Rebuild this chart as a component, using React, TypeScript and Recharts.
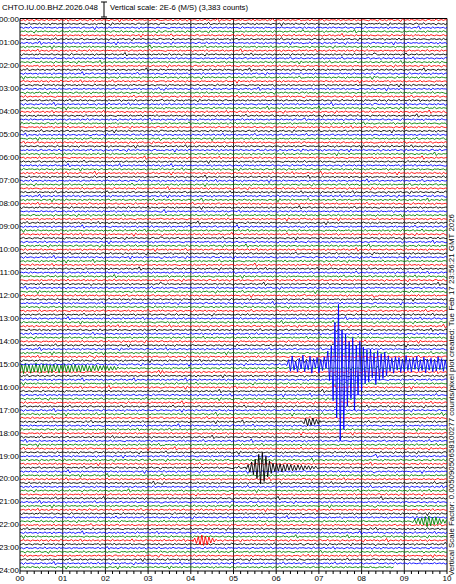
import React from "react";
import { LineChart, Line, XAxis, YAxis, ReferenceLine } from "recharts";

// helicorder CHTO.IU.00.BHZ, one line = 10 minutes, 6 lines per hour
const TRACE_COUNT = 144;
const TRACE_COLORS = ["#ff0000", "#000000", "#0000ff", "#008000"];
const HOUR_LABELS = [
  "00:00", "01:00", "02:00", "03:00", "04:00", "05:00", "06:00", "07:00", "08:00",
  "09:00", "10:00", "11:00", "12:00", "13:00", "14:00", "15:00", "16:00", "17:00",
  "18:00", "19:00", "20:00", "21:00", "22:00", "23:00", "24:00",
];
const MINUTE_LABELS = ["00", "01", "02", "03", "04", "05", "06", "07", "08", "09", "10"];

// background wiggle (small units of a line spacing)
const NOISE = [
  [0, 1, -1, 2, -2, 1, 0, -1, 3, -2, 0, 1, -1, 0, 2, -3, 1, 0, -1, 1, 0, -2, 2, -1, 0, 1, -4, 3, -1, 0, 1, -1, 2, 0, -2, 1, -1, 0, 2, -1],
  [1, -1, 0, 2, -1, -2, 1, 0, 1, -3, 2, 0, -1, 1, -1, 0, 3, -2, 0, 1, -1, 2, -1, 0, -2, 1, 1, -1, 0, 4, -3, 1, 0, -1, 1, -2, 0, 1, -1, 0],
  [-1, 0, 2, -1, 1, 0, -2, 1, -1, 2, 0, -1, 1, -5, 4, -1, 0, 1, -1, 0, 2, -2, 1, 0, -1, 1, 0, -1, 2, -1, 0, 1, -2, 1, 0, -1, 3, -2, 1, 0],
  [0, -2, 1, 1, -1, 0, 2, -1, 0, -1, 1, 2, -3, 1, 0, -1, 0, 1, -2, 2, -1, 0, 1, -1, 3, -2, 0, -1, 1, 0, -1, 2, -1, 1, -2, 0, 1, -1, 0, 1],
  [2, -1, 0, -1, 1, 0, -1, 2, -2, 1, 0, 1, -1, 0, -2, 3, -1, 0, 1, -1, 0, -1, 2, -3, 2, 0, -1, 1, 0, -1, 1, 0, -2, 2, -1, 1, 0, -1, 0, 1],
  [-1, 1, 0, -1, 2, -1, 0, 1, -2, 0, 1, -1, 3, -2, 1, 0, -1, 1, -1, 0, 0, 2, -1, -1, 1, 0, -2, 5, -3, 1, 0, -1, 1, -1, 2, -2, 0, 1, -1, 0],
  [0, 1, -2, 1, 0, -1, 1, -1, 2, 0, -2, 1, 0, 1, -1, -1, 2, -1, 0, 1, -3, 2, 0, -1, 1, -1, 0, 2, -2, 1, -1, 0, 1, 0, -1, 2, -1, 0, -1, 1],
  [1, 0, -1, 1, -2, 2, -1, 0, 1, -1, 0, -1, 2, -1, 1, -4, 2, 1, -1, 0, 1, -2, 1, 0, -1, 2, -1, 0, 1, -1, -2, 2, 0, -1, 1, 0, -1, 1, -2, 1],
];
const NOISE_UNIT = 0.1;

// events, in line spacings, sampled every 2.5 s
const QUAKE = [
  0.3, -1.2, 1.8, -2.2, 1.5, -0.8,
  2.0, -1.6, 1.2, -2.4, 1.9, -1.0, 1.4, -2.1, 2.3, -1.5, 0.9, -1.8, 2.2, -1.3, 1.6, -2.0, 1.1,
  -3.5, 4.2, -4.8,
  9.5, -11, 14, -15.7, 20, -9, 17,
  -8, 11, -6, 9, -7, 12, -5, 8, -6, 7,
  -4.5, 5, -3.8, 4.6, -4, 3.5, -3, 5.2, -3.6, 4, -2.8, 3.7, -3.2, 3,
  -2.2, 1.8, -1.6, 2.3, -2, 1.5, -1.8, 2.1, -1.4, 1.9, -2.3, 1.6, -1.5, 2, -1.7, 1.3, -2.1,
  1.8, -1.2, 1.6, -1.9, 2.2, -1.4, 1.5, -1.6, 1.9, -1.3, 1.7, -2, 1.4, -1.5, 1.8, -1.2, 1.5,
];
const QUAKE_CODA = [
  1.2, -1.0, 1.4, -1.3, 0.9, -1.1, 1.3, -0.8, 1.0, -1.4,
  1.1, -0.9, 1.2, -1.2, 0.8, -1.0, 1.3, -0.9, 1.1, -1.1,
  0.7, -1.0, 1.2, -0.8, 0.9, -1.1, 1.0, -0.7, 1.1, -0.9,
  0.8, -1.0, 0.9, -0.7, 1.0, -0.8, 0.7, -0.9, 0.8, -0.6,
  0.9, -0.7, 0.6, -0.8, 0.7, -0.6, 0.5, -0.7, 0.6, -0.5,
  0.6, -0.4, 0.5, -0.5, 0.4, -0.3,
];
const BLACK_EVENT = [
  0.4, -0.8, 1.2, -1.5, 1.8, -2.2, 2.8, -3.5, 4.2, -4.0,
  3.6, -3.0, 2.4, -1.8, 1.5, -1.2, 1.0, -1.1, 0.9, -1.0,
  1.1, -0.8, 0.9, -0.9, 0.7, -0.8, 0.8, -0.6, 0.7, -0.7,
  0.5, -0.6, 0.6, -0.5, 0.4, -0.5, 0.5, -0.4, 0.3, -0.4, 0.2,
];
const GREEN_EVENT = [0.3, -0.5, 0.6, -0.8, 0.7, -0.9, 1.0, -1.2, 1.4, -1.3, 1.2, -1.0, 0.9, -1.1, 0.8, -0.7, 0.6, -0.5, 0.5, -0.4];
const RED_EVENT = [0.3, -0.6, 0.8, -1.0, 1.2, -1.4, 1.3, -1.1, 1.2, -0.9, 0.7, -0.6, 0.4, -0.3];
const SMALL_EVENT = [0.5, -0.9, 1.1, -0.8, 0.9, -1.0, 0.7, -0.6, 0.5, -0.3];

const EVENTS = [
  { trace: 90, start: 6.25, values: QUAKE },
  { trace: 91, start: 0, values: QUAKE_CODA },
  { trace: 105, start: 6.65, values: SMALL_EVENT },
  { trace: 117, start: 5.3, values: BLACK_EVENT },
  { trace: 131, start: 9.2, values: GREEN_EVENT },
  { trace: 136, start: 4.05, values: RED_EVENT },
];
const LAST_SAMPLE = 8.75; // plot created before the last line was full

const STEP = 2.5 / 60;

function pick(i: number, j: number) {
  const p = NOISE[(i * 3 + j * 5 + ((i * j) % 7)) % 8];
  const s = (i * 7 + j * 11) % 40;
  return [...p.slice(s), ...p.slice(0, s)];
}

function buildTrace(i: number) {
  const n: number[] = [];
  for (let j = 0; j < 6; j++) n.push(...pick(i, j));
  n.push(n[0]);
  let pts = n.map((v, k) => ({ t: k * STEP, v: i + v * NOISE_UNIT }));
  EVENTS.filter((e) => e.trace === i).forEach((e) => {
    const end = e.start + (e.values.length - 1) * STEP;
    pts = pts.filter((p) => p.t < e.start - 1e-9 || p.t > end + 1e-9);
    e.values.forEach((v, k) => pts.push({ t: e.start + k * STEP, v: i + v }));
  });
  pts.sort((p, q) => p.t - q.t);
  if (i === TRACE_COUNT - 1) pts = pts.filter((p) => p.t <= LAST_SAMPLE);
  return pts;
}

const traces = Array.from({ length: TRACE_COUNT }, (_, i) => ({ i, data: buildTrace(i) }));
const eventIds = EVENTS.map((e) => e.trace);
const ordered = [
  ...traces.filter((t) => !eventIds.includes(t.i)),
  ...traces.filter((t) => eventIds.includes(t.i)).reverse(),
];

const xTicks = Array.from({ length: 61 }, (_, k) => k / 6);
const hourTicks = HOUR_LABELS.map((_, h) => h * 6);
const FONT = "'Liberation Sans', Arial, sans-serif";

const MinuteTick = (props: any) => {
  const { x, y, payload } = props;
  const k = Math.round(payload.value * 6);
  const major = k % 6 === 0;
  return (
    <g>
      <line x1={x} x2={x} y1={y} y2={y + 3} stroke="#000" strokeWidth={1} />
      {major && (
        <text x={x} y={y + 9.5} textAnchor="middle" fontSize={8} fontFamily={FONT} fill="#000">
          {MINUTE_LABELS[k / 6]}
        </text>
      )}
    </g>
  );
};

const HourTick = (props: any) => {
  const { x, y, payload } = props;
  return (
    <text x={x} y={y + 2.3} textAnchor="end" fontSize={8} fontFamily={FONT} fill="#000">
      {HOUR_LABELS[Math.round(payload.value / 6)]}
    </text>
  );
};

export default function App() {
  return (
    <div style={{ position: "relative", width: 456, height: 584, background: "#fff" }}>
      <style>{`body{margin:0}`}</style>
      <LineChart width={456} height={584} margin={{ top: 18.5, right: 9, bottom: 0, left: 0 }}>
        <XAxis
          type="number"
          dataKey="t"
          domain={[0, 10]}
          ticks={xTicks}
          interval={0}
          allowDataOverflow
          height={13}
          tickSize={0}
          tickMargin={0}
          tickLine={false}
          axisLine={{ stroke: "#000" }}
          tick={<MinuteTick />}
        />
        <YAxis
          type="number"
          domain={[-0.4, 144]}
          reversed
          allowDataOverflow
          ticks={hourTicks}
          interval={0}
          width={20}
          tickSize={0}
          tickMargin={1}
          tickLine={false}
          axisLine={{ stroke: "#000" }}
          tick={<HourTick />}
        />
        {MINUTE_LABELS.slice(1, 10).map((_, m) => (
          <ReferenceLine key={m} x={m + 1} stroke="#333" strokeWidth={1} />
        ))}
        <ReferenceLine x={10} stroke="#000" strokeWidth={1} />
        <ReferenceLine y={-0.4} stroke="#000" strokeWidth={1} />
        {ordered.map((tr) => (
          <Line
            key={tr.i}
            data={tr.data}
            dataKey="v"
            type="linear"
            stroke={TRACE_COLORS[tr.i % 4]}
            strokeWidth={0.9}
            dot={false}
            activeDot={false}
            isAnimationActive={false}
          />
        ))}
      </LineChart>
      <svg
        width={456}
        height={584}
        style={{ position: "absolute", left: 0, top: 0, pointerEvents: "none" }}
      >
        <text x={2} y={10} fontSize={8} fontFamily={FONT} fill="#000" textLength={96} lengthAdjust="spacingAndGlyphs">
          CHTO.IU.00.BHZ.2026.048
        </text>
        <line x1={104} x2={104} y1={2} y2={17} stroke="#000" />
        <line x1={101} x2={107} y1={2} y2={2} stroke="#000" />
        <line x1={101} x2={107} y1={17} y2={17} stroke="#000" />
        <text x={110} y={10} fontSize={8} fontFamily={FONT} fill="#000" textLength={138} lengthAdjust="spacingAndGlyphs">
          Vertical scale: 2E-6 (M/S) (3,383 counts)
        </text>
        <text
          x={0}
          y={0}
          transform="translate(454,576) rotate(-90)"
          fontSize={8}
          fontFamily={FONT}
          fill="#000"
          textLength={362}
          lengthAdjust="spacingAndGlyphs"
        >
          Vertical Scale Factor: 0.00509050658100277 counts/pixel plot created: Tue Feb 17 23:56:21 GMT 2026
        </text>
      </svg>
    </div>
  );
}
